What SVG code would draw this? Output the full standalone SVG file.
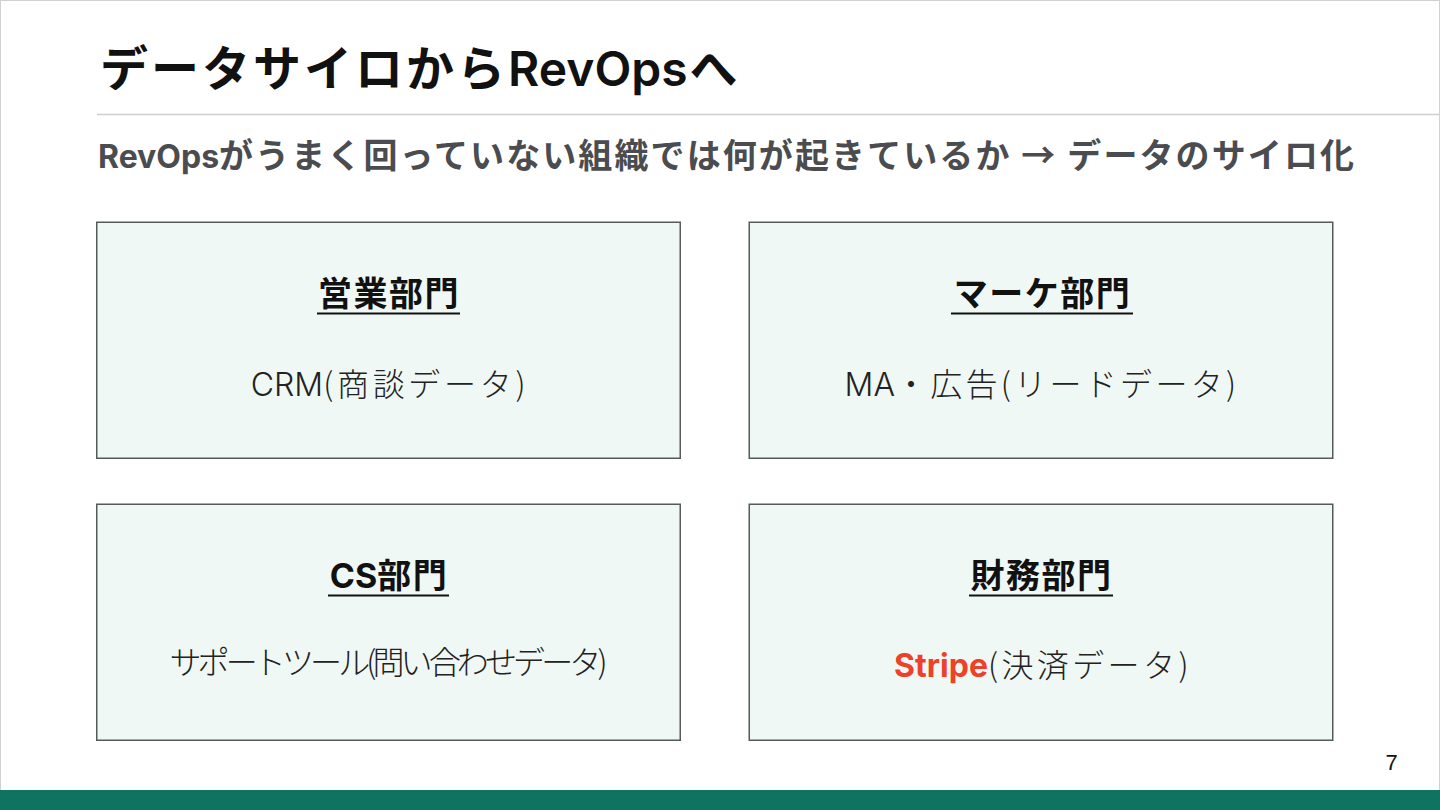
<svg xmlns="http://www.w3.org/2000/svg" width="1440" height="810" viewBox="0 0 1440 810">
<style>
.jp{font-family:"Noto Sans CJK JP","Noto Sans",sans-serif}
.la{font-family:Inter,"Noto Sans",sans-serif;letter-spacing:0}
.box{fill:#f0f8f5;stroke:#555a5a;stroke-width:1.5}
.h{font-size:34px;font-weight:700;fill:#111;text-anchor:middle;letter-spacing:1.5px}
.b{font-size:32px;font-weight:300;fill:#222;text-anchor:middle}
.ul{stroke:#111;stroke-width:2.2}
</style>
<rect x="0" y="0" width="1440" height="810" fill="#ffffff"/>
<rect x="0.5" y="0.5" width="1439" height="809" fill="none" stroke="#d0d0d0" stroke-width="1"/>
<g id="header">
<text class="jp" x="100" y="86" font-size="48" font-weight="700" fill="#111"><tspan letter-spacing="3">データサイロから</tspan><tspan class="la" font-weight="600">RevOps</tspan><tspan dx="2">へ</tspan></text>
<line x1="97" y1="114.5" x2="1440" y2="114.5" stroke="#cfcfcf" stroke-width="1.5"/>
<text class="jp" x="98" y="168" font-size="34" font-weight="700" fill="#4a4c50"><tspan class="la" font-size="32">RevOps</tspan><tspan letter-spacing="2.1">がうまく回っていない組織では何が起きているか → データのサイロ化</tspan></text>
</g>
<g id="sales">
<rect class="box" x="96.75" y="222.25" width="583.5" height="236"/>
<text class="jp h" x="389" y="306">営業部門</text>
<line class="ul" x1="317" y1="313.5" x2="460" y2="313.5"/>
<text class="jp b" x="390" y="396"><tspan class="la">CRM</tspan><tspan letter-spacing="3.7">(商談データ)</tspan></text>
</g>
<g id="marketing">
<rect class="box" x="749.25" y="222.25" width="583.5" height="236"/>
<text class="jp h" x="1042.5" y="306">マーケ部門</text>
<line class="ul" x1="951" y1="313.5" x2="1133" y2="313.5"/>
<text class="jp b" x="1042" y="396"><tspan class="la">MA</tspan><tspan letter-spacing="3.3">・広告(リードデータ)</tspan></text>
</g>
<g id="cs">
<rect class="box" x="96.75" y="504.25" width="583.5" height="236"/>
<text class="jp h" x="389" y="588"><tspan class="la">CS</tspan>部門</text>
<line class="ul" x1="328" y1="595.5" x2="449" y2="595.5"/>
<text class="jp b" x="388.5" y="674" font-size="25" textLength="438" lengthAdjust="spacing">サポートツール(問い合わせデータ)</text>
</g>
<g id="finance">
<rect class="box" x="749.25" y="504.25" width="583.5" height="236"/>
<text class="jp h" x="1041.5" y="588">財務部門</text>
<line class="ul" x1="969" y1="595.5" x2="1113" y2="595.5"/>
<text class="jp b" x="1043" y="677"><tspan class="la" fill="#ef4129" font-weight="700" letter-spacing="0.3">Stripe</tspan><tspan letter-spacing="3.4">(決済データ)</tspan></text>
</g>
<g id="footer">
<text x="1391.5" y="770" font-family="Liberation Sans, sans-serif" font-size="22" fill="#111" text-anchor="middle">7</text>
<rect x="0" y="790" width="1440" height="20" fill="#0e7461"/>
</g>
<g id="connectors"/>
</svg>
